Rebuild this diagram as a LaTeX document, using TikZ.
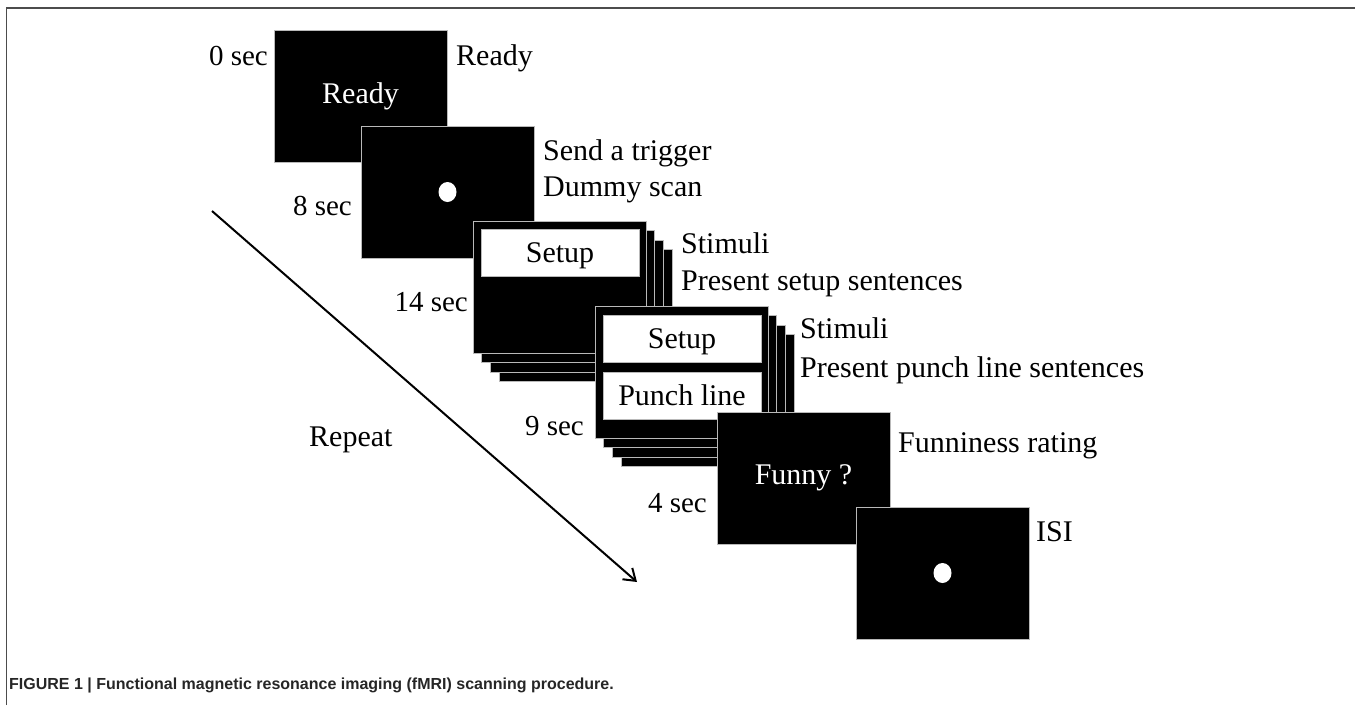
\documentclass[tikz,border=0pt]{standalone}
\usepackage{fontspec}
\setmainfont{Liberation Serif}
\newfontfamily\capfont{Liberation Sans}
\usetikzlibrary{arrows.meta}
\newcommand\slidefont{\fontsize{30}{36}\selectfont}
\newcommand\timefont{\fontsize{29}{35}\selectfont}

\begin{document}
\begin{tikzpicture}[x=1pt, y=-1pt,
    slide/.style={fill=black, draw=gray!55, line width=0.8pt, inner sep=0pt, outer sep=0pt,
        anchor=north west, minimum width=173pt, minimum height=132pt, text=white, font=\slidefont},
    screen/.style={fill=white, draw=gray!55, line width=0.8pt, inner sep=0pt, outer sep=0pt,
        anchor=north west, minimum width=158pt, minimum height=47pt, text height=20pt, text depth=0pt,
        font=\slidefont},
    lbl/.style={anchor=base west, inner sep=0pt, font=\slidefont},
    tlbl/.style={anchor=base east, inner sep=0pt, font=\timefont}]
    \useasboundingbox (0,0) rectangle (1355,705);

    % frame
    \coordinate (fbl) at (6.5,705);
    \coordinate (ftl) at (6.5,8);
    \coordinate (ftr) at (1355,8);
    \draw[gray!60!black, line width=1.4pt] (fbl) -- (ftl) -- (ftr);

    % ready and trigger
    \node[slide] (s1) at (274,30) {Ready};
    \node[slide] (s2) at (361,126) {};
    \fill[white] (s2.center) ellipse [x radius=9, y radius=10];

    % setup sentences
    \foreach \k in {3,2,1}
        \node[slide] (s3p\k) at ({473+8.8*\k},{221+9.6*\k}) {};
    \node[slide] (s3) at (473,221) {};
    \node[screen] (s3a) at (481,229) {Setup};

    % punch line sentences
    \foreach \k in {3,2,1}
        \node[slide] (s4p\k) at ({595+8.8*\k},{306+9.6*\k}) {};
    \node[slide] (s4) at (595,306) {};
    \node[screen] (s4a) at (603,315) {Setup};
    \node[screen] (s4b) at (603,372) {Punch line};

    % rating and ISI
    \node[slide] (s5) at (717,412) {Funny ?};
    \node[slide] (s6) at (856,507) {};
    \fill[white] (s6.center) ellipse [x radius=9, y radius=10];

    % times
    \foreach \name/\x/\y/\txt in {t0/268/65/0 sec, t1/352/215/8 sec, t2/468/311/14 sec,
                                  t3/584/435/9 sec, t4/707/512/4 sec}
        \node[tlbl] (\name) at (\x,\y) {\txt};

    % descriptions
    \foreach \name/\x/\y/\txt in {d0/456/65/Ready, d1/543/160/Send a trigger, d2/543/196/Dummy scan,
                                  d3/681/253/Stimuli, d4/681/290/Present setup sentences,
                                  d5/800/338/Stimuli, d6/800/377/Present punch line sentences,
                                  d7/898/452/Funniness rating, d8/1036/541/ISI}
        \node[lbl] (\name) at (\x,\y) {\txt};

    % repeat
    \coordinate (rs) at (212,211);
    \coordinate (re) at (637,582);
    \draw[line width=2pt, -{Straight Barb[length=11pt, width=15pt]}] (rs) -- (re);
    \node[lbl] (rep) at (309,446) {Repeat};

    \node[anchor=base west, inner sep=0pt, text=black!85, font=\capfont\bfseries\fontsize{16}{19}\selectfont] (cap) at (9,689)
        {FIGURE 1 | Functional magnetic resonance imaging (fMRI) scanning procedure.};
\end{tikzpicture}
\end{document}
